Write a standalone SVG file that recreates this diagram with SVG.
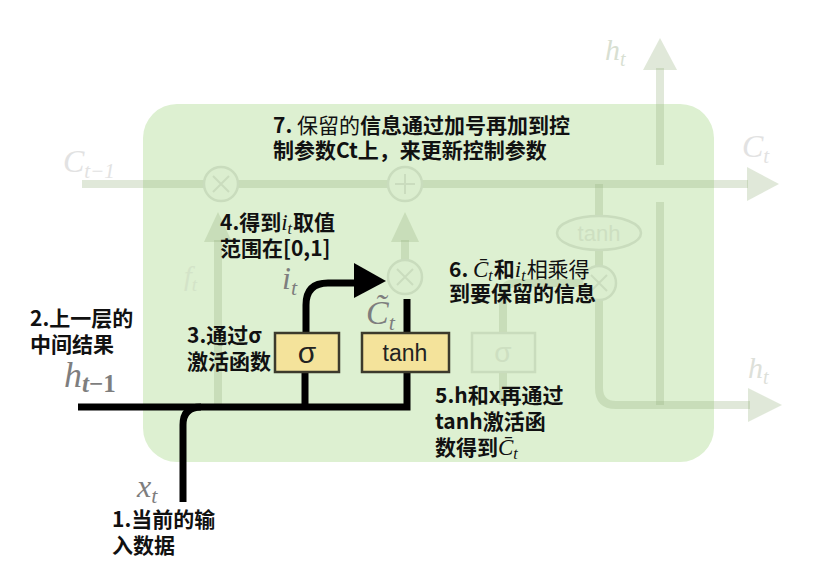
<svg xmlns="http://www.w3.org/2000/svg" width="825" height="581" viewBox="0 0 825 581">
<defs>
<style>
.ann{font-family:"Noto Sans CJK SC","Noto Sans",sans-serif;font-size:21px;fill:#111}
.b{font-weight:700}
.r{font-weight:400}
.m{font-family:"Liberation Serif","DejaVu Serif",serif;font-style:italic;font-weight:400}
.lbl{font-family:"Liberation Serif","DejaVu Serif",serif;font-style:italic;fill:#7e7e7e}
.ghost{font-family:"Liberation Serif","DejaVu Serif",serif;font-style:italic}
.fl{fill:none;stroke:#97b482;stroke-opacity:0.3;stroke-width:8}
.fa{fill:#97b482;fill-opacity:0.3}
.fc{fill:#dbeecf;stroke:#c9dcbd;stroke-width:2.5}
.fx{stroke:#cadcbe;stroke-width:2;fill:none}
.blk{fill:none;stroke:#000;stroke-width:7}
.gate{fill:#f4e39b;stroke:#3c3a2c;stroke-width:2.5}
.gt{font-family:"Liberation Sans","DejaVu Sans",sans-serif;fill:#222}
</style>
</defs>
<rect width="825" height="581" fill="#ffffff"/>
<g id="cell">
<rect x="143" y="104" width="571" height="358" rx="34" fill="#ddf0d1"/>
</g>
<g id="faded">
<path class="fl" d="M82,184 H748"/>
<polygon class="fa" points="747,167 779,184 747,201"/>
<path class="fl" d="M660,165 V68"/>
<polygon class="fa" points="643,70 660,38 677,70"/>
<path class="fl" d="M660,202 V405"/>
<path class="fl" d="M599,184 V216 M599,250 V266 M599,300 V388 Q599,405 616,405 H750"/>
<polygon class="fa" points="748,388 782,405 748,422"/>
<path class="fl" d="M218,405 V240"/>
<polygon class="fa" points="204,242 218,212 232,242"/>
<path class="fl" d="M405,260 V240"/>
<polygon class="fa" points="391,242 405,212 419,242"/>
<path class="fl" d="M503,405 V372 M503,333 V296 Q503,283 516,283 H582"/>
<circle class="fc" cx="221" cy="184" r="17"/>
<path class="fx" d="M213,176 L229,192 M229,176 L213,192"/>
<circle class="fc" cx="405" cy="184" r="17"/>
<path class="fx" d="M405,174 V194 M395,184 H415"/>
<circle class="fc" cx="405" cy="277" r="17"/>
<path class="fx" d="M397,269 L413,285 M413,269 L397,285"/>
<circle class="fc" cx="599" cy="283" r="17"/>
<path class="fx" d="M591,275 L607,291 M607,275 L591,291"/>
<ellipse cx="599" cy="233" rx="42" ry="17" fill="#dbeecf" stroke="#c9dcbd" stroke-width="2.5"/>
<text x="599" y="241" text-anchor="middle" class="gt" font-size="22" style="fill:#cddfc1">tanh</text>
<rect x="472" y="333" width="63" height="39" fill="#dbeecf" stroke="#c9dcbd" stroke-width="2.5"/>
<text x="503" y="362" text-anchor="middle" class="gt" font-size="28" style="fill:#cddfc1">σ</text>
<text x="63" y="172" class="ghost" font-size="32" fill="#e2e2e2">C<tspan font-size="21" dy="6">t−1</tspan></text>
<text x="605" y="60" class="ghost" font-size="30" fill="#d8dfd2">h<tspan font-size="20" dy="6">t</tspan></text>
<text x="742" y="157" class="ghost" font-size="32" fill="#e2e2e2">C<tspan font-size="21" dy="6">t</tspan></text>
<text x="748" y="378" class="ghost" font-size="30" fill="#dde0d9">h<tspan font-size="20" dy="6">t</tspan></text>
<text x="184" y="285" class="ghost" font-size="28" fill="#d3e3c8">f<tspan font-size="19" dy="6">t</tspan></text>
</g>
<g id="connectors">
<path class="blk" d="M78,407 H407 V372"/>
<path class="blk" d="M305,407 V372"/>
<path class="blk" d="M183,502 V425 Q183,407 201,407"/>
<path class="blk" d="M306,333 V305 Q306,283 328,283 H358"/>
<polygon points="354,263 386,281 354,298" fill="#000"/>
<path class="blk" d="M407,333 V299"/>
</g>
<g id="sigma">
<rect class="gate" x="275" y="333" width="64" height="39"/>
<text x="307" y="363" text-anchor="middle" class="gt" font-size="30">σ</text>
</g>
<g id="tanh">
<rect class="gate" x="362" y="333" width="87" height="39"/>
<text x="405" y="361" text-anchor="middle" class="gt" font-size="23">tanh</text>
</g>
<g id="labels">
<text x="64" y="387" class="lbl" font-size="36">h<tspan font-size="25" dy="5" font-weight="700">t</tspan><tspan font-size="25" font-style="normal" font-weight="700">−1</tspan></text>
<text x="137" y="497" class="lbl" font-size="32">x<tspan font-size="22" dy="6">t</tspan></text>
<text x="282" y="289" class="lbl" font-size="32">i<tspan font-size="22" dy="6">t</tspan></text>
<text x="366" y="324" class="lbl" font-size="34">C̃<tspan font-size="22" dy="6">t</tspan></text>
</g>
<g id="note7">
<text x="273" y="133" class="ann"><tspan class="b">7.</tspan><tspan class="r"> 保留的</tspan><tspan class="b">信息通过加号再加到控</tspan></text>
<text x="273" y="158" class="ann b">制参数Ct上，来更新控制参数</text>
</g>
<g id="note4">
<text x="220" y="230" class="ann b">4.得到<tspan class="m" font-size="23">i</tspan><tspan class="m" font-size="16" dy="4">t</tspan><tspan dx="1" dy="-4">取值</tspan></text>
<text x="220" y="256" class="ann b">范围在[0,1]</text>
</g>
<g id="note2">
<text x="30" y="326" class="ann b">2.上一层的</text>
<text x="30" y="352" class="ann b">中间结果</text>
</g>
<g id="note3">
<text x="187" y="343" class="ann b">3.通过σ</text>
<text x="187" y="369" class="ann b">激活函数</text>
</g>
<g id="note6">
<text x="449" y="277" class="ann"><tspan class="b">6. </tspan><tspan class="m" font-size="23">C̄</tspan><tspan class="m" font-size="16" dy="4">t</tspan><tspan class="b" dx="1" dy="-4">和</tspan><tspan class="m" font-size="23">i</tspan><tspan class="m" font-size="16" dy="4">t</tspan><tspan class="r" dx="1" dy="-4">相乘得</tspan></text>
<text x="449" y="301" class="ann b">到要保留的信息</text>
</g>
<g id="note5">
<text x="435" y="403" class="ann b">5.h和x再通过</text>
<text x="435" y="429" class="ann b">tanh激活函</text>
<text x="435" y="455" class="ann b">数得到<tspan class="m" font-size="23">C̄</tspan><tspan class="m" font-size="16" dy="4">t</tspan></text>
</g>
<g id="note1">
<text x="112" y="527" class="ann b">1.当前的输</text>
<text x="112" y="553" class="ann b">入数据</text>
</g>
</svg>
